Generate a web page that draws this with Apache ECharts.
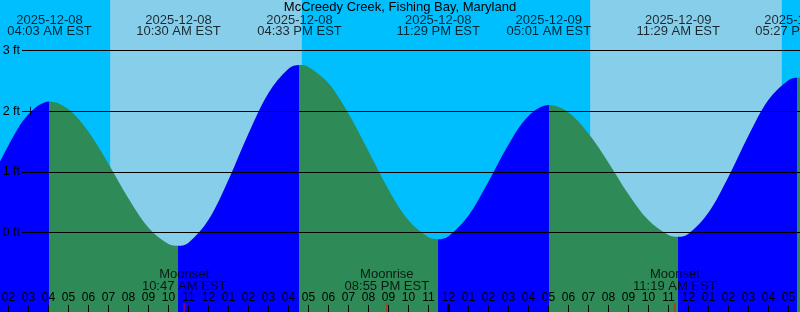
<!DOCTYPE html>
<html><head><meta charset="utf-8">
<script src="https://cdn.jsdelivr.net/npm/echarts@6/dist/echarts.min.js"></script>
<style>html,body{margin:0;padding:0;background:#00BFFF}#c{width:800px;height:312px}</style>
</head><body><div id="c"></div>
<script>
// ---------- data ----------
const stationName = 'McCreedy Creek, Fishing Bay, Maryland';
const baseDate = '2025-12-08';
// tide extremes (high / low)
const extremeDates   = ['2025-12-08','2025-12-08','2025-12-08','2025-12-08','2025-12-09','2025-12-09','2025-12-09'];
const extremeTimes   = ['04:03 AM EST','10:30 AM EST','04:33 PM EST','11:29 PM EST','05:01 AM EST','11:29 AM EST','05:27 PM EST'];
const extremeHeights = [2.16, -0.22, 2.76, -0.11, 2.10, -0.07, 2.55];
// water level (ft) read at each full hour, starting 2025-12-08 01:00
const hourlyStartHour = 1;
const hourlyHeights = [0.77, 1.44, 1.95, 2.15, 2.03, 1.66, 1.13, 0.56, 0.08, -0.19,
  -0.17, 0.21, 0.87, 1.63, 2.30, 2.70, 2.73, 2.46, 1.96, 1.34,
  0.71, 0.20, -0.08, -0.06, 0.28, 0.84, 1.45, 1.92, 2.10, 1.98,
  1.63, 1.15, 0.63, 0.20, -0.04, -0.02, 0.33, 0.92, 1.60, 2.19,
  2.51, 2.52];
// daylight
const sunriseDates = ['2025-12-08','2025-12-09'];
const sunriseTimes = ['07:05 AM EST','07:05 AM EST'];
const sunsetDates  = ['2025-12-08','2025-12-09'];
const sunsetTimes  = ['04:40 PM EST','04:40 PM EST'];
// moon events
const moonEvents = ['Moonset','Moonrise','Moonset'];
const moonDates  = ['2025-12-08','2025-12-08','2025-12-09'];
const moonTimes  = ['10:47 AM EST','08:55 PM EST','11:19 AM EST'];
// day change marker
const dayChangeDates = ['2025-12-09'];
const dayChangeTimes = ['12:00 AM EST'];
// small marker on the curve
const markerDates = ['2025-12-08'];
const markerTimes = ['03:06 AM EST'];
const markerHeights = [2];
// y axis ticks (ft)
const yTicks = [0, 1, 2, 3];

// ---------- helpers ----------
function toHours(date, time) {
  const day = (Date.parse(date) - Date.parse(baseDate)) / 86400000;
  const m = time.match(/(\d+):(\d+)\s*(AM|PM)/);
  let hh = (+m[1]) % 12; if (m[3] === 'PM') hh += 12;
  return day * 24 + hh + (+m[2]) / 60;
}
function hourLabel(v) {
  let k = ((Math.round(v) % 12) + 12) % 12; if (k === 0) k = 12;
  return String(k).padStart(2, '0');
}
const FONT = 'Liberation Sans';
const eh = extremeDates.map((d, i) => toHours(d, extremeTimes[i]));

// tide points
let tide = hourlyHeights.map((v, i) => [hourlyStartHour + i, v])
  .filter(p => eh.every(t => Math.abs(t - p[0]) > 0.1));
eh.forEach((t, i) => tide.push([t, extremeHeights[i]]));
tide.sort((a, b) => a[0] - b[0]);

// rising (blue) / falling (green) pieces
const RISE = '#0000FF', FALL = '#2E8B57';
const pieces = [];
pieces.push({ lte: eh[0], color: extremeHeights[0] > extremeHeights[1] ? RISE : FALL });
for (let i = 1; i < eh.length; i++) {
  pieces.push({ gt: eh[i - 1], lte: eh[i], color: extremeHeights[i] > extremeHeights[i - 1] ? RISE : FALL });
}
const last = eh.length - 1;
pieces.push({ gt: eh[last], color: extremeHeights[last] > extremeHeights[last - 1] ? FALL : RISE });

// layout constants (pixel geometry)
const PXF = 182 / 3;             // px per ft
const Y0 = 232.5;                // pixel of 0 ft
const yAt = px => (Y0 - px) / PXF; // pixel row -> ft
const gTop = Y0 - 4 * PXF;
const gBottom = 312 - (Y0 + 2 * PXF);   // negative: grid extends below canvas

const dayBands = sunriseDates.map((d, i) => [
  { xAxis: toHours(d, sunriseTimes[i]) },
  { xAxis: toHours(sunsetDates[i], sunsetTimes[i]) }
]);

const chart = echarts.init(document.getElementById('c'), null, { renderer: 'canvas' });
chart.setOption({
  animation: false,
  backgroundColor: '#00BFFF',
  textStyle: { fontFamily: FONT },
  title: {
    text: stationName, left: 'center', top: 1, padding: 0,
    textStyle: { fontSize: 13, fontWeight: 'normal', color: '#000', fontFamily: FONT }
  },
  grid: [
    { left: -71.5, right: -8.5, top: gTop, bottom: gBottom, outerBoundsMode: 'none', containLabel: false },
    { left: 22, right: 0, top: gTop, bottom: 312 - Y0, outerBoundsMode: 'none', containLabel: false }
  ],
  xAxis: [
    {
      type: 'value', gridIndex: 0, min: -2, max: 42, interval: 1, position: 'bottom',
      offset: gBottom, z: 10,
      axisLine: { show: false, onZero: false },
      axisTick: { show: true, inside: true, length: 7, lineStyle: { color: '#000', width: 1 } },
      axisLabel: { inside: true, margin: 8, color: '#000', fontSize: 12, fontFamily: FONT, formatter: hourLabel },
      splitLine: { show: false }
    },
    { type: 'value', gridIndex: 1, min: 0, max: 1, show: false, splitLine: { show: false } }
  ],
  yAxis: [
    { type: 'value', gridIndex: 0, min: -2, max: 4, show: false, splitLine: { show: false } },
    {
      type: 'value', gridIndex: 1, min: 0, max: 4, interval: 1, z: 10,
      axisLine: { show: false, onZero: false }, axisTick: { show: false },
      axisLabel: { margin: 2, color: '#000', fontSize: 12.5, fontFamily: FONT,
        formatter: v => yTicks.indexOf(v) >= 0 ? v + ' ft' : '' },
      splitLine: { show: true, lineStyle: { color: '#000', width: 1 } }
    }
  ],
  visualMap: [{ type: 'piecewise', show: false, dimension: 0, seriesIndex: 0, pieces: pieces }],
  series: [
    {
      type: 'line', xAxisIndex: 0, yAxisIndex: 0, data: tide, smooth: 0.35,
      showSymbol: false, symbol: 'none', silent: true, z: 2,
      lineStyle: { width: 0, opacity: 0 },
      areaStyle: { opacity: 1, origin: 'start' },
      markArea: { silent: true, z: 1, itemStyle: { color: '#87CEEB', opacity: 1, borderWidth: 0 }, data: dayBands }
    },
    {
      type: 'scatter', xAxisIndex: 0, yAxisIndex: 0, symbolSize: 0, silent: true, z: 5,
      data: eh.map((t, i) => [t, yAt(25.7), extremeDates[i], extremeTimes[i]]),
      label: { show: true, position: 'inside', color: '#000', fontSize: 13, lineHeight: 11.5, fontFamily: FONT,
        formatter: p => p.data[2] + '\n' + p.data[3] }
    },
    {
      type: 'scatter', xAxisIndex: 0, yAxisIndex: 0, symbolSize: 0, silent: true, z: 5,
      data: moonDates.map((d, i) => [toHours(d, moonTimes[i]), yAt(280.3), moonEvents[i], moonTimes[i]]),
      label: { show: true, position: 'inside', color: '#000', fontSize: 13, lineHeight: 11.5, fontFamily: FONT,
        formatter: p => p.data[2] + '\n' + p.data[3] }
    },
    {
      type: 'scatter', xAxisIndex: 0, yAxisIndex: 0, symbol: 'rect', symbolSize: [1, 9], silent: true, z: 6,
      itemStyle: { color: '#FF0000' },
      data: moonDates.map((d, i) => [toHours(d, moonTimes[i]), yAt(307.5)])
    },
    {
      type: 'scatter', xAxisIndex: 0, yAxisIndex: 0, symbol: 'rect', symbolSize: [3, 8], silent: true, z: 6,
      itemStyle: { color: '#000' },
      data: dayChangeDates.map((d, i) => [toHours(d, dayChangeTimes[i]), yAt(308)])
    },
    {
      type: 'scatter', xAxisIndex: 0, yAxisIndex: 0, symbol: 'rect', symbolSize: [1, 9], silent: true, z: 6,
      itemStyle: { color: '#000' },
      data: markerDates.map((d, i) => [toHours(d, markerTimes[i]), markerHeights[i]])
    }
  ]
});
</script></body></html>
